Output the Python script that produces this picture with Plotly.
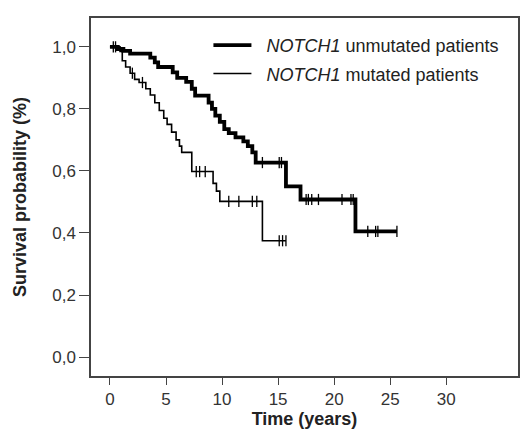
import numpy as np
import plotly.graph_objects as go

# Kaplan-Meier step curves: event times (years) and survival after each step
unmut_t = [0, 0.7, 1.2, 1.8, 3.6, 4.0, 4.3, 5.6, 6.0, 6.8, 7.3, 7.6, 8.8, 9.1,
           9.4, 9.8, 10.2, 10.6, 11.2, 11.9, 12.3, 12.7, 13.0, 15.7, 17.0, 21.9]
unmut_s = [1.0, 0.993, 0.987, 0.978, 0.965, 0.950, 0.935, 0.918, 0.900, 0.887,
           0.865, 0.843, 0.820, 0.800, 0.778, 0.758, 0.735, 0.722, 0.708, 0.695,
           0.680, 0.660, 0.627, 0.550, 0.508, 0.405]
unmut_end = 25.6
unmut_cens = [0.3, 0.5, 13.6, 15.1, 15.3, 17.5, 17.7, 18.0, 18.6, 20.7, 21.5, 21.7,
              23.0, 23.7, 23.9, 25.6]

mut_t = [0, 0.9, 1.1, 1.4, 1.8, 2.2, 2.6, 3.2, 3.6, 4.0, 4.4, 4.8, 5.1, 5.5,
         5.9, 6.2, 6.4, 7.3, 9.2, 9.5, 9.8, 13.6]
mut_s = [1.0, 0.985, 0.955, 0.935, 0.915, 0.895, 0.885, 0.865, 0.845, 0.820,
         0.795, 0.770, 0.750, 0.725, 0.700, 0.680, 0.660, 0.598, 0.560, 0.535,
         0.502, 0.375]
mut_end = 15.7
mut_cens = [2.0, 2.9, 7.7, 8.0, 8.5, 10.6, 11.5, 12.7, 13.1, 15.1, 15.4, 15.7]

x_ticks = [0, 5, 10, 15, 20, 25, 30]
y_ticks = [0.0, 0.2, 0.4, 0.6, 0.8, 1.0]
y_tick_text = ["0,0", "0,2", "0,4", "0,6", "0,8", "1,0"]


def surv_at(times, surv, t):
    idx = np.searchsorted(np.asarray(times), t, side="right") - 1
    return np.asarray(surv)[idx]


fig = go.Figure()

curves = [
    ("\u00a0\u00a0<i>NOTCH1</i> unmutated patients", unmut_t, unmut_s, unmut_end, unmut_cens, 3.8),
    ("\u00a0\u00a0<i>NOTCH1</i> mutated patients", mut_t, mut_s, mut_end, mut_cens, 1.6),
]
for i, (name, t, s, end, cens, w) in enumerate(curves):
    xs = list(t) + [end]
    ys = list(s) + [s[-1]]
    fig.add_trace(go.Scatter(
        x=xs, y=ys, mode="lines", line=dict(shape="hv", color="black", width=w),
        name=name, legendgroup=f"g{i}"))
    fig.add_trace(go.Scatter(
        x=cens, y=surv_at(t, s, cens), mode="markers", showlegend=False,
        legendgroup=f"g{i}",
        marker=dict(symbol="line-ns", size=8, line=dict(color="black", width=1.3))))

axis_common = dict(
    showgrid=False, zeroline=False, showline=True, linecolor="#444", linewidth=1.5,
    mirror=True, ticks="outside", tickwidth=1.3, tickcolor="#444",
    tickfont=dict(family="Liberation Sans, Arial", size=17, color="#333"),
)

fig.update_layout(
    width=524, height=430,
    margin=dict(l=91, r=4, t=18, b=52),
    paper_bgcolor="white", plot_bgcolor="white",
    font=dict(family="Liberation Sans, Arial", color="#222"),
    xaxis=dict(range=[-1.69, 36.4], tickvals=x_ticks, ticklen=7,
               title=dict(text="<b>Time (years)</b>", font=dict(size=18, color="#222"),
                          standoff=4),
               **axis_common),
    yaxis=dict(range=[-0.061, 1.093], tickvals=y_ticks, ticktext=y_tick_text,
               ticklen=10,
               title=dict(text="<b>Survival probability (%)</b>",
                          font=dict(size=18, color="#222"), standoff=21),
               **axis_common),
    legend=dict(x=0.275, y=0.975, xanchor="left", yanchor="top",
                font=dict(size=18, color="#222"), traceorder="grouped",
                tracegroupgap=2, bgcolor="rgba(0,0,0,0)", itemwidth=38),
)

fig.write_html("out.html")
